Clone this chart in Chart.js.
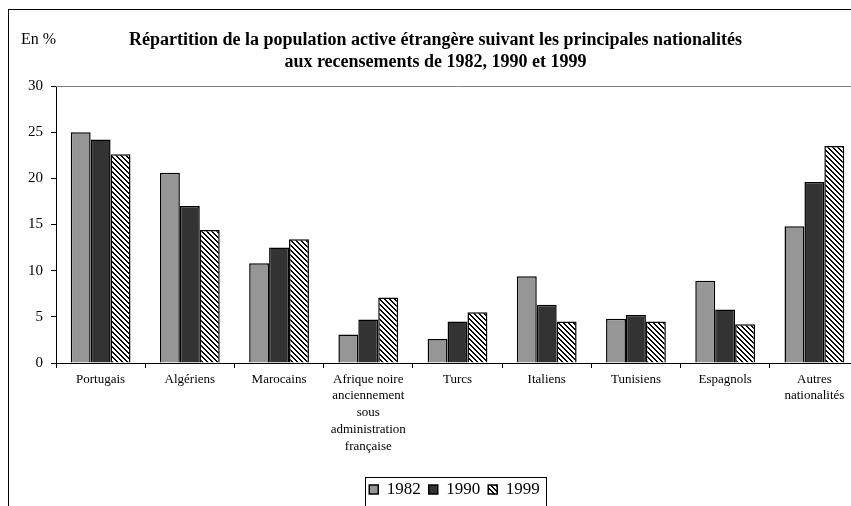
<!DOCTYPE html>
<html lang="fr">
<head>
<meta charset="utf-8">
<title>Population active étrangère</title>
<script src="https://cdn.jsdelivr.net/npm/chart.js@4.4.1/dist/chart.umd.min.js"></script>
<style>
  html, body { margin: 0; padding: 0; background: #fff; overflow: hidden; }
  #chart { display: block; }
</style>
</head>
<body>
<canvas id="chart" width="870" height="520"></canvas>
<script>
// Data
const categories = [
  "Portugais",
  "Algériens",
  "Marocains",
  ["Afrique noire", "anciennement", "sous", "administration", "française"],
  "Turcs",
  "Italiens",
  "Tunisiens",
  "Espagnols",
  ["Autres", "nationalités"],
];
const years = ["1982", "1990", "1999"];
const values1982 = [25.0, 20.6, 10.8, 3.1, 2.6, 9.4, 4.8, 8.9, 14.8];
const values1990 = [24.2, 17.0, 12.5, 4.7, 4.5, 6.3, 5.2, 5.8, 19.6];
const values1999 = [22.6, 14.4, 13.4, 7.1, 5.5, 4.5, 4.5, 4.2, 23.5];
const yTicks = [0, 5, 10, 15, 20, 25, 30];
const titleLines = [
  "Répartition de la population active étrangère suivant les principales nationalités",
  "aux recensements de 1982, 1990 et 1999",
];
const unitLabel = "En %";

const SERIF = '"Liberation Serif", "Times New Roman", serif';
Chart.defaults.color = "#000";
Chart.defaults.font.family = SERIF;

// Black/white downward diagonal hatch used for 1999
function makeHatch() {
  const size = 5;
  const c = document.createElement("canvas");
  c.width = size;
  c.height = size;
  const cx = c.getContext("2d");
  const img = cx.createImageData(size, size);
  for (let y = 0; y < size; y++) {
    for (let x = 0; x < size; x++) {
      const on = (((x - y) % size) + size) % size < 2;
      const i = (y * size + x) * 4;
      const v = on ? 0 : 255;
      img.data[i] = v;
      img.data[i + 1] = v;
      img.data[i + 2] = v;
      img.data[i + 3] = 255;
    }
  }
  cx.putImageData(img, 0, 0);
  return cx.createPattern(c, "repeat");
}

// Frame, unit label, top border of plot area and legend box
const decorations = {
  id: "decorations",
  afterLayout(chart) {
    // title and legend sit a little right of the canvas centre in the original
    chart.titleBlock.left += 6;
    chart.titleBlock.right += 6;
    chart.legend.left += 25;
    chart.legend.right += 25;
  },
  beforeDraw(chart) {
    const ctx = chart.ctx;
    ctx.save();
    ctx.strokeStyle = "#000";
    ctx.lineWidth = 1;
    ctx.strokeRect(8.5, 9.5, 2000, 2000);
    ctx.restore();
  },
  afterDraw(chart) {
    const ctx = chart.ctx;
    const area = chart.chartArea;
    ctx.save();
    ctx.strokeStyle = "#808080";
    ctx.lineWidth = 1;
    ctx.beginPath();
    ctx.moveTo(area.left, Math.round(area.top) + 0.5);
    ctx.lineTo(area.right, Math.round(area.top) + 0.5);
    ctx.stroke();

    ctx.fillStyle = "#000";
    ctx.font = "16px " + SERIF;
    ctx.textBaseline = "middle";
    ctx.fillText(unitLabel, 21, 40);

    const lg = chart.legend;
    const cx = (lg.left + lg.right) / 2;
    ctx.strokeStyle = "#000";
    ctx.strokeRect(Math.round(cx - 90) + 0.5, Math.round(lg.top + 4) + 0.5, 181, 60);
    ctx.restore();
  },
};

const ctx = document.getElementById("chart").getContext("2d");
const hatch = makeHatch();

new Chart(ctx, {
  type: "bar",
  data: {
    labels: categories,
    datasets: [
      { label: years[0], data: values1982, backgroundColor: "#969696" },
      { label: years[1], data: values1990, backgroundColor: "#333333" },
      { label: years[2], data: values1999, backgroundColor: hatch },
    ].map((d) => ({
      ...d,
      borderColor: "#000",
      borderWidth: 1.5,
      categoryPercentage: 0.67,
      barPercentage: 1,
    })),
  },
  options: {
    responsive: false,
    animation: false,
    layout: { padding: { top: 9, left: 0, right: 11, bottom: 12 } },
    plugins: {
      title: {
        display: true,
        text: titleLines,
        font: { size: 18, weight: "bold", family: SERIF, lineHeight: "22px" },
        padding: { top: 20, bottom: 13 },
      },
      legend: {
        position: "bottom",
        labels: {
          boxWidth: 9,
          boxHeight: 9,
          padding: 8,
          font: { size: 17, family: SERIF },
        },
      },
      tooltip: { enabled: false },
    },
    scales: {
      x: {
        afterFit: (scale) => { scale.height = 110; },
        grid: {
          offset: true,
          drawOnChartArea: false,
          drawTicks: true,
          tickLength: 5,
          color: "#000",
        },
        border: { display: true, color: "#000", width: 1 },
        ticks: {
          autoSkip: false,
          maxRotation: 0,
          padding: 3,
          font: { size: 13, family: SERIF, lineHeight: "16.7px" },
        },
      },
      y: {
        min: yTicks[0],
        max: yTicks[yTicks.length - 1],
        afterFit: (scale) => { scale.width = 56; },
        grid: {
          drawOnChartArea: false,
          drawTicks: true,
          tickLength: 5,
          color: "#000",
        },
        border: { display: true, color: "#000", width: 1 },
        ticks: {
          stepSize: yTicks[1] - yTicks[0],
          padding: 8,
          font: { size: 15, family: SERIF },
        },
      },
    },
  },
  plugins: [decorations],
});
</script>
</body>
</html>
